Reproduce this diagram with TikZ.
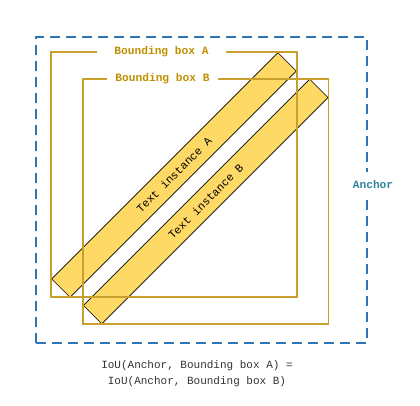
\documentclass[tikz,border=0pt]{standalone}
\usepackage{fontspec}
\setmainfont{Liberation Mono}
\definecolor{boxgold}{HTML}{C9A02C}
\definecolor{labelgold}{HTML}{BF9000}
\definecolor{stripfill}{HTML}{FFD966}
\definecolor{anchorblue}{HTML}{2E75B6}
\definecolor{anchorteal}{HTML}{31849B}
\definecolor{textgray}{HTML}{333333}
\begin{document}
\begin{tikzpicture}[x=1pt,y=-1pt,
  anchorbox/.style={draw=anchorblue, line width=2pt, dash pattern=on 10pt off 6pt, inner sep=0pt, outer sep=0pt},
  bbox/.style={draw=boxgold, line width=1.3pt, inner sep=0pt, outer sep=0pt},
  bblabel/.style={fill=white, text=labelgold, font=\fontsize{11.2}{13}\selectfont\bfseries, inner ysep=1pt},
  strip/.style={draw=black, line width=0.6pt, fill=stripfill, rotate=45, minimum width=320pt, minimum height=26pt, inner sep=0pt, font=\fontsize{11.2}{13}\selectfont},
  anchorlabel/.style={fill=white, text=anchorteal, font=\fontsize{11.2}{13}\selectfont\bfseries, inner xsep=1pt, inner ysep=8pt},
  caption/.style={text=textgray, align=center, font=\fontsize{11}{16}\selectfont}
]
\useasboundingbox (0,0) rectangle (420,405);
% anchor
\node[anchorbox, minimum width=331pt, minimum height=306pt] (anchor) at (201.5,189.5) {};
% text instances
\node[strip] (ta) at (174,175) {Text instance A};
\node[strip] (tb) at (205.75,201.5) {Text instance B};
% bounding boxes
\node[bbox, minimum width=246pt, minimum height=245pt] (bba) at (174,174.5) {};
\node[bbox, minimum width=245.5pt, minimum height=245pt] (bbb) at (205.75,201.5) {};
% labels
\node[bblabel, inner xsep=17pt] (la) at (161.5,52) {Bounding box A};
\node[bblabel, inner xsep=8.5pt] (lb) at (162.5,79) {Bounding box B};
\node[anchorlabel] (lanchor) at (373,184) {Anchor};
\node[caption] (cap) at (197,374) {IoU(Anchor, Bounding box A) =\\IoU(Anchor, Bounding box B)};
\end{tikzpicture}
\end{document}
